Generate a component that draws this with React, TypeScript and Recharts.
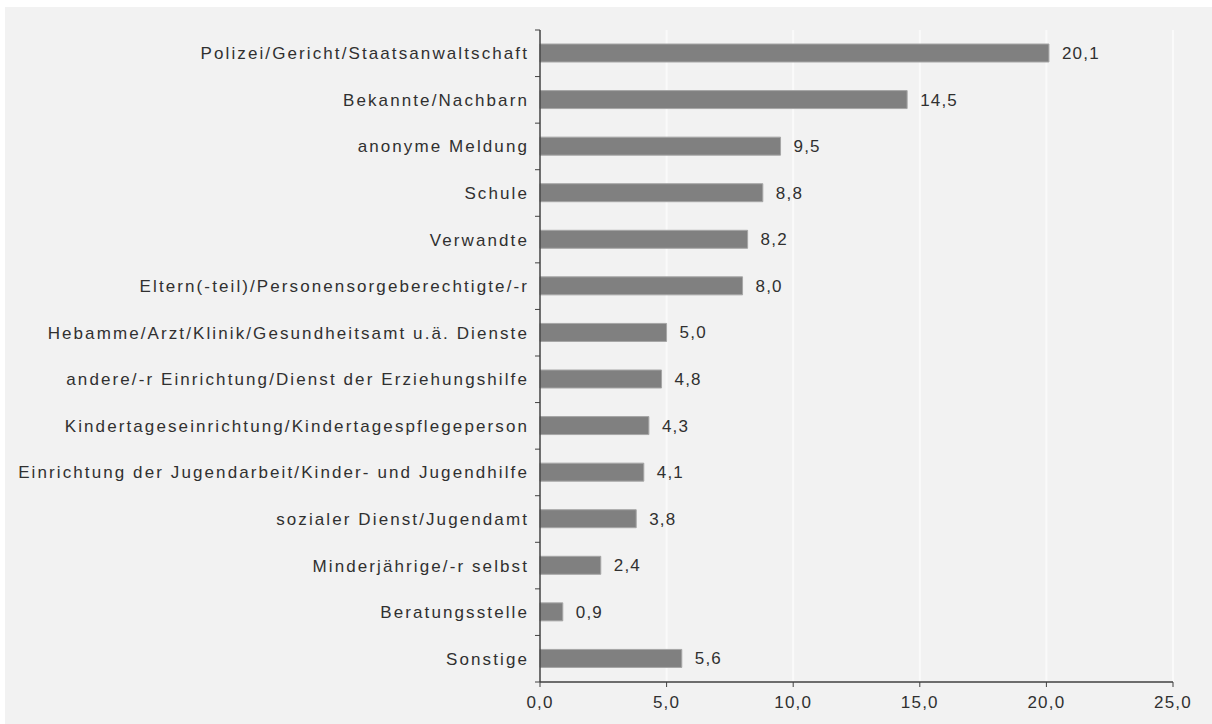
import { BarChart, Bar, XAxis, YAxis, CartesianGrid, LabelList } from 'recharts';

const categories = [
  'Polizei/Gericht/Staatsanwaltschaft',
  'Bekannte/Nachbarn',
  'anonyme Meldung',
  'Schule',
  'Verwandte',
  'Eltern(-teil)/Personensorgeberechtigte/-r',
  'Hebamme/Arzt/Klinik/Gesundheitsamt u.ä. Dienste',
  'andere/-r Einrichtung/Dienst der Erziehungshilfe',
  'Kindertageseinrichtung/Kindertagespflegeperson',
  'Einrichtung der Jugendarbeit/Kinder- und Jugendhilfe',
  'sozialer Dienst/Jugendamt',
  'Minderjährige/-r selbst',
  'Beratungsstelle',
  'Sonstige',
];
const values = [20.1, 14.5, 9.5, 8.8, 8.2, 8.0, 5.0, 4.8, 4.3, 4.1, 3.8, 2.4, 0.9, 5.6];
const xTicks = [0, 5, 10, 15, 20, 25];

const data = categories.map((name, i) => ({ name, value: values[i] }));

const W = 1207;
const H = 717;
const M = { top: 23, right: 39, bottom: 12, left: 0 };
const Y_WIDTH = 535;
const X_HEIGHT = 30;
const BAND = (H - M.top - M.bottom - X_HEIGHT) / categories.length;
const AXIS = '#404040';
const TEXT = '#303030';
const FONT = '"Liberation Sans", Arial, sans-serif';

const fmt = (v: number) => v.toFixed(1).replace('.', ',');

// Excel-style: label at band centre, tick marks on band boundaries
function CategoryTick({ y, payload, index }: any) {
  const ax = Y_WIDTH;
  const top = y - BAND / 2;
  return (
    <g>
      <line x1={ax - 5} x2={ax} y1={top} y2={top} stroke={AXIS} />
      {index === categories.length - 1 && (
        <line x1={ax - 5} x2={ax} y1={y + BAND / 2} y2={y + BAND / 2} stroke={AXIS} />
      )}
      <text
        x={ax - 11}
        y={y}
        dy={6}
        textAnchor="end"
        fontSize={17}
        letterSpacing={2.1}
        fill={TEXT}
        fontFamily={FONT}
      >
        {payload.value}
      </text>
    </g>
  );
}

export default function App() {
  return (
    <div style={{ position: 'absolute', left: 5, top: 7, width: W, height: H, background: '#f2f2f2' }}>
      <BarChart width={W} height={H} data={data} layout="vertical" margin={M} barCategoryGap={0}>
        <CartesianGrid horizontal={false} vertical stroke="#fafafa" strokeWidth={2} />
        <XAxis
          type="number"
          domain={[0, 25]}
          ticks={xTicks}
          tickFormatter={fmt}
          height={X_HEIGHT}
          axisLine={{ stroke: AXIS, strokeWidth: 1.5 }}
          tickLine={{ stroke: AXIS }}
          tickSize={5}
          tickMargin={9}
          tick={{ fontSize: 17, fill: TEXT, fontFamily: FONT, letterSpacing: 1.2 }}
        />
        <YAxis
          type="category"
          dataKey="name"
          width={Y_WIDTH}
          axisLine={{ stroke: AXIS, strokeWidth: 1.5 }}
          tickLine={false}
          interval={0}
          tick={<CategoryTick />}
        />
        <Bar dataKey="value" fill="#808080" stroke="#a6a6a6" barSize={18} isAnimationActive={false}>
          <LabelList
            dataKey="value"
            position="right"
            offset={13}
            formatter={(v: any) => fmt(Number(v))}
            style={{ fontSize: 17, fill: TEXT, fontFamily: FONT, letterSpacing: 1.2 }}
          />
        </Bar>
      </BarChart>
    </div>
  );
}
